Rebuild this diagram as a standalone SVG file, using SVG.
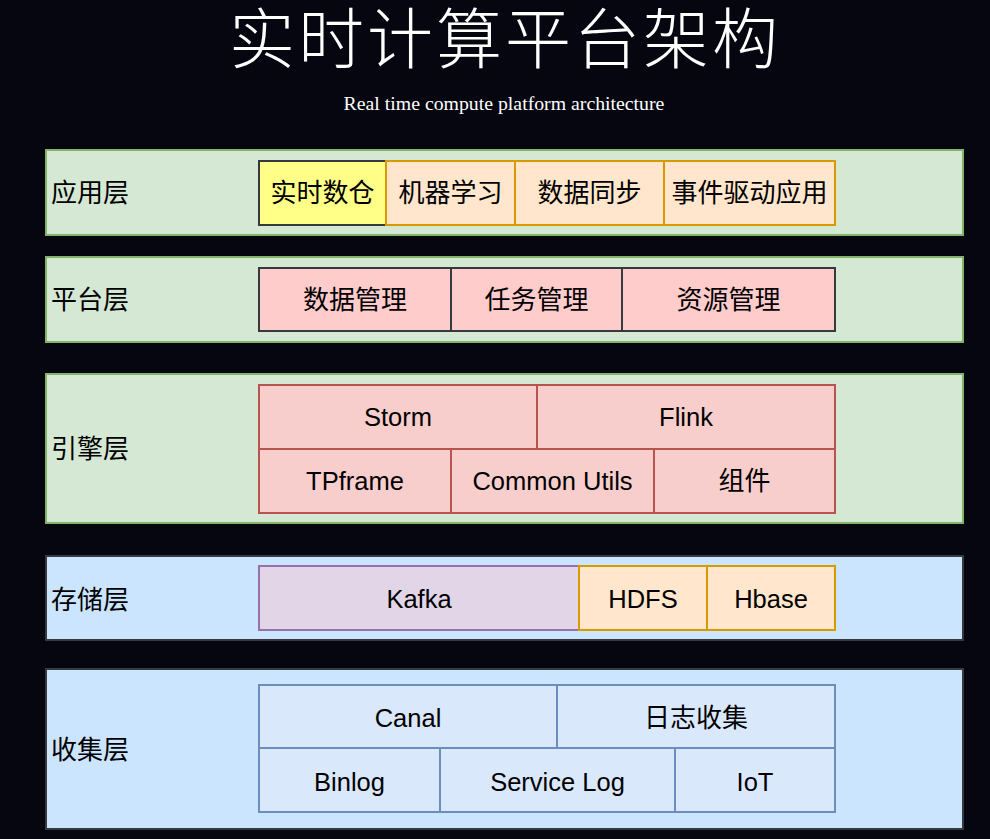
<svg xmlns="http://www.w3.org/2000/svg" width="990" height="839" viewBox="0 0 990 839">
<style>
.t{font-family:"Liberation Sans","Noto Sans CJK SC",sans-serif;font-size:25.5px;fill:#000;text-anchor:middle;dominant-baseline:central}
.c{font-size:26px}
.lab{font-family:"Liberation Sans","Noto Sans CJK SC",sans-serif;font-size:26px;fill:#000;dominant-baseline:central}
.lg{fill:#d5e8d4;stroke:#82b366;stroke-width:2}
.lb{fill:#cce5ff;stroke:#36393d;stroke-width:2}
.yel{fill:#ffff88;stroke:#36393d;stroke-width:2}
.org{fill:#ffe6cc;stroke:#d79b00;stroke-width:2}
.pnk{fill:#ffcccc;stroke:#36393d;stroke-width:2}
.red{fill:#f8cecc;stroke:#b85450;stroke-width:2}
.pur{fill:#e1d5e7;stroke:#9673a6;stroke-width:2}
.blu{fill:#dae8fc;stroke:#6c8ebf;stroke-width:2}
</style>
<rect x="0" y="0" width="990" height="839" fill="#05060f"/>
<text x="505" y="63" font-family="Noto Sans CJK SC, sans-serif" font-size="66" font-weight="300" letter-spacing="3" fill="#fff" text-anchor="middle">实时计算平台架构</text>
<text x="504" y="110" font-family="Liberation Serif, serif" font-size="19.8" fill="#fff" text-anchor="middle">Real time compute platform architecture</text>

<g id="layer-app"><rect class="lg" x="46" y="150" width="917" height="85"/><text class="lab" x="51" y="193">应用层</text></g>
<g id="layer-platform"><rect class="lg" x="46" y="257" width="917" height="85"/><text class="lab" x="51" y="300">平台层</text></g>
<g id="layer-engine"><rect class="lg" x="46" y="374" width="917" height="149"/><text class="lab" x="51" y="449">引擎层</text></g>
<g id="layer-storage"><rect class="lb" x="46" y="556" width="917" height="84"/><text class="lab" x="51" y="600">存储层</text></g>
<g id="layer-collect"><rect class="lb" x="46" y="669" width="917" height="160"/><text class="lab" x="51" y="750">收集层</text></g>

<g id="n-rtdw"><rect class="yel" x="259" y="161" width="127" height="64"/><text class="t c" x="322.5" y="193">实时数仓</text></g>
<g id="n-ml"><rect class="org" x="386" y="161" width="129" height="64"/><text class="t c" x="450.5" y="193">机器学习</text></g>
<g id="n-sync"><rect class="org" x="515" y="161" width="149" height="64"/><text class="t c" x="589.5" y="193">数据同步</text></g>
<g id="n-event"><rect class="org" x="664" y="161" width="171" height="64"/><text class="t c" x="749.5" y="193">事件驱动应用</text></g>

<g id="n-datamgr"><rect class="pnk" x="259" y="268" width="192" height="63"/><text class="t c" x="355" y="300">数据管理</text></g>
<g id="n-taskmgr"><rect class="pnk" x="451" y="268" width="171" height="63"/><text class="t c" x="536.5" y="300">任务管理</text></g>
<g id="n-resmgr"><rect class="pnk" x="622" y="268" width="213" height="63"/><text class="t c" x="728.5" y="300">资源管理</text></g>

<g id="n-storm"><rect class="red" x="259" y="385" width="278" height="64"/><text class="t" x="398" y="417">Storm</text></g>
<g id="n-flink"><rect class="red" x="537" y="385" width="298" height="64"/><text class="t" x="686" y="417">Flink</text></g>
<g id="n-tpframe"><rect class="red" x="259" y="449" width="192" height="64"/><text class="t" x="355" y="481">TPframe</text></g>
<g id="n-common"><rect class="red" x="451" y="449" width="203" height="64"/><text class="t" x="552.5" y="481">Common Utils</text></g>
<g id="n-comp"><rect class="red" x="654" y="449" width="181" height="64"/><text class="t c" x="744.5" y="481">组件</text></g>

<g id="n-kafka"><rect class="pur" x="259" y="566" width="320" height="64"/><text class="t" x="419" y="599">Kafka</text></g>
<g id="n-hdfs"><rect class="org" x="579" y="566" width="128" height="64"/><text class="t" x="643" y="599">HDFS</text></g>
<g id="n-hbase"><rect class="org" x="707" y="566" width="128" height="64"/><text class="t" x="771" y="599">Hbase</text></g>

<g id="n-canal"><rect class="blu" x="259" y="685" width="298" height="63"/><text class="t" x="408" y="718">Canal</text></g>
<g id="n-logc"><rect class="blu" x="557" y="685" width="278" height="63"/><text class="t c" x="696" y="718">日志收集</text></g>
<g id="n-binlog"><rect class="blu" x="259" y="748" width="181" height="64"/><text class="t" x="349.5" y="782">Binlog</text></g>
<g id="n-svclog"><rect class="blu" x="440" y="748" width="235" height="64"/><text class="t" x="557.5" y="782">Service Log</text></g>
<g id="n-iot"><rect class="blu" x="675" y="748" width="160" height="64"/><text class="t" x="755" y="782">IoT</text></g>

<g id="connectors"></g>
</svg>
